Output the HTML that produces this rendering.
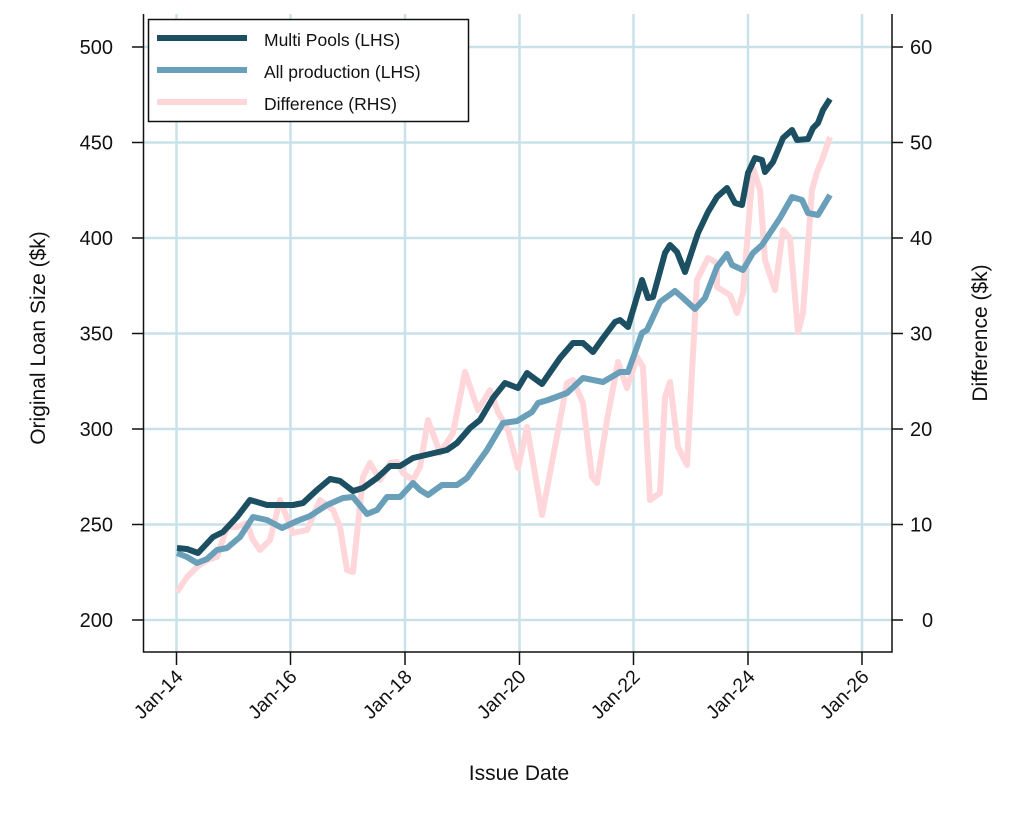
<!DOCTYPE html>
<html><head><meta charset="utf-8"><style>body{margin:0;background:#fff}svg{display:block}text{font-family:"Liberation Sans",sans-serif;fill:#111}</style></head><body>
<svg width="1024" height="816" viewBox="0 0 1024 816" xmlns="http://www.w3.org/2000/svg">
<g stroke="#c9e2ea" stroke-width="2.5">
<line x1="176.5" y1="14" x2="176.5" y2="652"/><line x1="290.5" y1="14" x2="290.5" y2="652"/><line x1="405" y1="14" x2="405" y2="652"/><line x1="519.5" y1="14" x2="519.5" y2="652"/><line x1="633.5" y1="14" x2="633.5" y2="652"/><line x1="748" y1="14" x2="748" y2="652"/><line x1="862" y1="14" x2="862" y2="652"/>
<line x1="143" y1="47" x2="892" y2="47"/><line x1="143" y1="142.5" x2="892" y2="142.5"/><line x1="143" y1="238" x2="892" y2="238"/><line x1="143" y1="333.5" x2="892" y2="333.5"/><line x1="143" y1="429" x2="892" y2="429"/><line x1="143" y1="524.5" x2="892" y2="524.5"/><line x1="143" y1="620" x2="892" y2="620"/>
</g>
<g fill="none" stroke-linejoin="round" stroke-linecap="butt" stroke-width="6">
<polyline stroke="#ffd6da" points="177,592 187,577 197,567 207,560 217,557 227,527 237,527 247,523 253,540 260,550 270,540 280,500 293,533 307,530 320,500 333,510 340,527 347,570 353,572 363,477 370,463 380,480 390,463 397,462 403,473 413,480 420,467 428,420 440,453 453,433 465,372 478,410 490,390 498,412 508,430 518,468 527,427 542,515 553,457 567,383 573,380 583,403 592,477 597,483 607,420 618,362 627,388 637,357 643,367 650,500 660,493 665,397 670,382 678,447 687,465 697,280 708,258 717,263 717,287 730,295 737,313 743,293 753,168 760,190 765,260 775,290 783,230 790,238 798,332 803,313 812,190 817,172 822,160 830,137"/>
<polyline stroke="#6a9fba" points="177,553 187,557 197,563 207,559 217,550 227,548 240,537 253,517 267,520 282,528 297,521 310,516 327,505 343,498 353,497 367,514 377,510 387,497 400,497 413,483 420,490 428,495 442,485 457,485 467,478 487,450 503,423 517,421 532,412 538,403 548,400 567,393 583,378 603,382 620,372 628,372 642,333 647,330 660,302 675,291 682,297 695,309 705,298 717,267 727,254 732,265 743,270 753,253 762,245 780,218 792,197 802,200 808,213 818,215 830,195"/>
<polyline stroke="#1b4f61" points="177,548 187,549 198,553 213,537 223,532 237,517 250,500 267,505 280,505 293,505 303,503 317,490 330,479 340,481 353,491 363,488 377,478 390,466 400,466 413,458 430,454 447,450 457,443 470,428 480,420 493,398 505,383 518,388 527,373 542,384 560,358 573,343 583,343 593,352 603,338 615,322 620,320 628,327 642,280 648,298 653,297 665,253 670,245 677,252 685,272 698,233 708,212 717,197 727,188 735,203 742,205 748,173 755,158 762,160 765,172 773,162 783,138 792,130 797,140 808,139 813,128 818,123 823,110 830,99"/>
</g>
<g stroke="#111" stroke-width="1.5" fill="none">
<polyline points="143.5,14 143.5,652 892,652 892,14"/>
<path d="M132 47H143.5M132 142.5H143.5M132 238H143.5M132 333.5H143.5M132 429H143.5M132 524.5H143.5M132 620H143.5"/>
<path d="M892 47H903M892 142.5H903M892 238H903M892 333.5H903M892 429H903M892 524.5H903M892 620H903"/>
<path d="M176.5 652V665M290.5 652V665M405 652V665M519.5 652V665M633.5 652V665M748 652V665M862 652V665"/>
</g>
<g font-size="20" text-anchor="end">
<text x="113" y="54">500</text><text x="113" y="149.5">450</text><text x="113" y="245">400</text><text x="113" y="340.5">350</text><text x="113" y="436">300</text><text x="113" y="531.5">250</text><text x="113" y="627">200</text>
</g>
<g font-size="20">
<text x="910" y="54">60</text><text x="910" y="149.5">50</text><text x="910" y="245">40</text><text x="910" y="340.5">30</text><text x="910" y="436">20</text><text x="910" y="531.5">10</text><text x="922" y="627">0</text>
</g>
<g font-size="19.5" text-anchor="end">
<text transform="translate(184,678) rotate(-45)">Jan-14</text>
<text transform="translate(298,678) rotate(-45)">Jan-16</text>
<text transform="translate(413,678) rotate(-45)">Jan-18</text>
<text transform="translate(527,678) rotate(-45)">Jan-20</text>
<text transform="translate(641,678) rotate(-45)">Jan-22</text>
<text transform="translate(756,678) rotate(-45)">Jan-24</text>
<text transform="translate(870,678) rotate(-45)">Jan-26</text>
</g>
<text x="519" y="780" font-size="21" text-anchor="middle">Issue Date</text>
<text transform="translate(45,338) rotate(-90)" font-size="21" text-anchor="middle">Original Loan Size ($k)</text>
<text transform="translate(987,333) rotate(-90)" font-size="21" text-anchor="middle">Difference ($k)</text>
<rect x="148.5" y="19.5" width="320" height="102" fill="#fff" stroke="#111" stroke-width="1.5"/>
<g stroke-width="6"><line x1="157" y1="38" x2="247" y2="38" stroke="#1b4f61"/><line x1="157" y1="70" x2="247" y2="70" stroke="#6a9fba"/><line x1="157" y1="102" x2="247" y2="102" stroke="#ffd6da"/></g>
<g font-size="17.5"><text x="264" y="46">Multi Pools (LHS)</text><text x="264" y="78">All production (LHS)</text><text x="264" y="110">Difference (RHS)</text></g>
</svg>
</body></html>
